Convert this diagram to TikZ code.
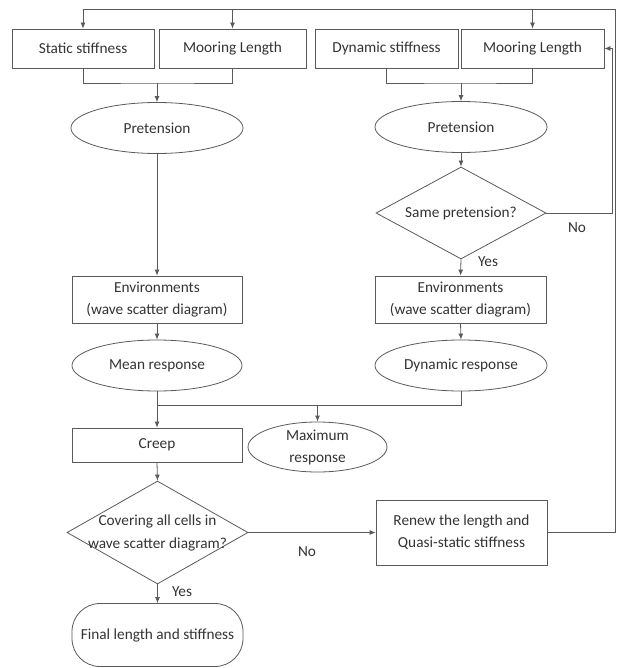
\documentclass[tikz,border=0pt]{standalone}
\usepackage{fontspec}
\setmainfont{Carlito}
\usetikzlibrary{shapes.geometric,arrows.meta}
\definecolor{ln}{HTML}{5A5A5A}
\definecolor{tx}{HTML}{333333}
\begin{document}
\begin{tikzpicture}[x=1pt,y=-1pt,
  every node/.style={text=tx,font=\fontsize{15.3}{22}\selectfont,inner sep=0pt,align=center},
  box/.style={draw=ln,line width=0.8pt,rectangle},
  ell/.style={draw=ln,line width=0.8pt,ellipse},
  dia/.style={draw=ln,line width=0.8pt,diamond},
  term/.style={draw=ln,line width=0.8pt,rectangle,rounded corners=28pt},
  lnk/.style={draw=ln,line width=0.8pt},
  arr/.style={lnk,-{Latex[length=6pt,width=5pt]}}]
\useasboundingbox (0,0) rectangle (616,668);
% top row
\node[box,minimum width=142,minimum height=39] (ss) at (83,48.5) {Static stiffness};
\node[box,minimum width=147,minimum height=39] (ml1) at (232.5,48.5) {Mooring Length};
\node[box,minimum width=143,minimum height=39] (ds) at (386.5,48.5) {Dynamic stiffness};
\node[box,minimum width=143,minimum height=39] (ml2) at (532.5,48.5) {Mooring Length};
% pretension
\node[ell,minimum width=172,minimum height=51] (p1) at (157,128) {Pretension};
\node[ell,minimum width=172,minimum height=51] (p2) at (461,127) {Pretension};
% same pretension
\node[dia,minimum width=170,minimum height=92] (d1) at (461,213) {};
\node (d1t) at (d1.center) {Same pretension?};
% environments
\node[box,minimum width=170,minimum height=47] (e1) at (157,299.5) {Environments\\(wave scatter diagram)};
\node[box,minimum width=171,minimum height=47] (e2) at (460.5,299.5) {Environments\\(wave scatter diagram)};
% responses
\node[ell,minimum width=170,minimum height=51] (mr) at (157,365.5) {Mean response};
\node[ell,minimum width=172,minimum height=51] (dr) at (461,365.5) {Dynamic response};
% creep, max
\node[box,minimum width=170,minimum height=34] (cr) at (157,445) {Creep};
\node[ell,minimum width=139,minimum height=50] (mx) at (317.5,447) {Maximum\\response};
% covering
\node[dia,minimum width=181,minimum height=103] (d2) at (157.5,532.5) {};
\node[font=\fontsize{15.3}{23}\selectfont] (d2t) at (d2.center) {Covering all cells in\\wave scatter diagram?};
% renew
\node[box,minimum width=171,minimum height=65] (rn) at (461.5,532.5) {Renew the length and\\Quasi-static stiffness};
% final
\node[term,minimum width=171,minimum height=63] (fn) at (157.5,635) {Final length and stiffness};
% labels
\node (no1) at (577,228) {No};
\node (yes1) at (488,262) {Yes};
\node (no2) at (307,552) {No};
\node (yes2) at (182,592) {Yes};
% coordinates
\coordinate (tl) at (83,9);
\coordinate (tr) at (615,9);
\coordinate (rb) at (615,532.5);
\coordinate (fb) at (612,130);
\coordinate (m1) at (157,83);
\coordinate (m2) at (461,83);
\coordinate (m3) at (157,405);
% top loop
\draw[lnk] (rn.east) -- (rb) -- (tr) -- (tl);
\draw[arr] (tl) -- (ss.north);
\draw[arr] (ml1.north |- tl) -- (ml1.north);
\draw[arr] (ml2.north |- tl) -- (ml2.north);
% merges
\draw[lnk] (ss.south) |- (m1) -| (ml1.south);
\draw[arr] (m1) -- (p1.north);
\draw[lnk] (ds.south) |- (m2) -| (ml2.south);
\draw[arr] (m2) -- (p2.north);
% left column
\draw[arr] (p1.south) -- (e1.north);
\draw[arr] (e1.south) -- (mr.north);
% right column
\draw[arr] (p2.south) -- (d1.north);
\draw[arr] (d1.south) -- (e2.north);
\draw[arr] (e2.south) -- (dr.north);
\draw[arr] (d1.east) -| (fb) |- (ml2.east);
% bottom merge
\draw[lnk] (dr.south) |- (m3);
\draw[arr] (mr.south) -- (cr.north);
\draw[arr] (mx.north |- m3) -- (mx.north);
\draw[arr] (cr.south) -- (d2.north);
\draw[arr] (d2.east) -- (rn.west);
\draw[arr] (d2.south) -- (fn.north);
\end{tikzpicture}
\end{document}
